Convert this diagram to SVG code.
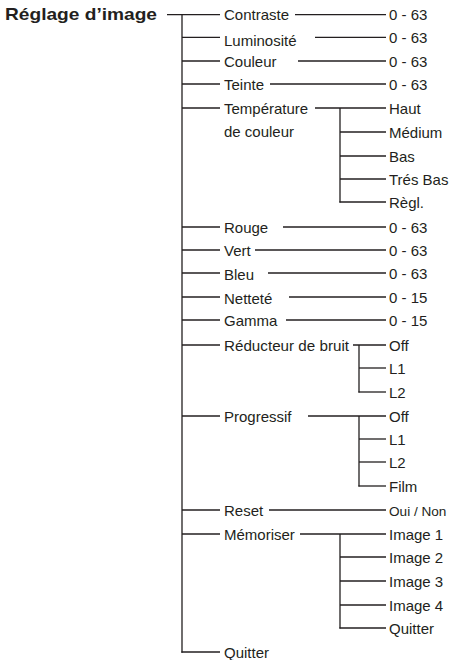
<svg xmlns="http://www.w3.org/2000/svg" width="450" height="660" viewBox="0 0 450 660">
<style>
text{font-family:"Liberation Sans",Arial,sans-serif;font-size:15px;fill:#231f20}
.t{font-weight:bold;font-size:17px}
.s{font-size:13.6px}
.c line{stroke:#231f20;stroke-width:1.3;fill:none}
</style>
<rect width="450" height="660" fill="#fff"/>
<g class="c" id="connectors">
<line x1="167" y1="14.7" x2="220" y2="14.7"/>
<line x1="182" y1="14" x2="182" y2="652.7"/>
<line x1="182" y1="37.3" x2="220" y2="37.3"/>
<line x1="182" y1="61" x2="220" y2="61"/>
<line x1="182" y1="84" x2="220" y2="84"/>
<line x1="182" y1="108" x2="220" y2="108"/>
<line x1="182" y1="227" x2="220" y2="227"/>
<line x1="182" y1="250" x2="220" y2="250"/>
<line x1="182" y1="273" x2="220" y2="273"/>
<line x1="182" y1="297" x2="220" y2="297"/>
<line x1="182" y1="320" x2="220" y2="320"/>
<line x1="182" y1="345" x2="220" y2="345"/>
<line x1="182" y1="416" x2="220" y2="416"/>
<line x1="182" y1="510" x2="220" y2="510"/>
<line x1="182" y1="534" x2="220" y2="534"/>
<line x1="181.4" y1="652" x2="220" y2="652"/>
<line x1="295" y1="14.7" x2="386" y2="14.7"/>
<line x1="315" y1="37.3" x2="386" y2="37.3"/>
<line x1="298" y1="61" x2="386" y2="61"/>
<line x1="270" y1="84" x2="386" y2="84"/>
<line x1="315" y1="108" x2="386" y2="108"/>
<line x1="340" y1="108" x2="340" y2="202.6"/>
<line x1="340" y1="132" x2="386" y2="132"/>
<line x1="340" y1="156" x2="386" y2="156"/>
<line x1="340" y1="179" x2="386" y2="179"/>
<line x1="339.4" y1="202" x2="386" y2="202"/>
<line x1="283" y1="227" x2="386" y2="227"/>
<line x1="255" y1="250" x2="386" y2="250"/>
<line x1="268" y1="273" x2="386" y2="273"/>
<line x1="289" y1="297" x2="386" y2="297"/>
<line x1="286" y1="320" x2="386" y2="320"/>
<line x1="353" y1="345" x2="386" y2="345"/>
<line x1="359" y1="345" x2="359" y2="392.6"/>
<line x1="359" y1="368" x2="386" y2="368"/>
<line x1="358.4" y1="392" x2="386" y2="392"/>
<line x1="308" y1="416" x2="386" y2="416"/>
<line x1="359" y1="416" x2="359" y2="486.6"/>
<line x1="359" y1="439" x2="386" y2="439"/>
<line x1="359" y1="462" x2="386" y2="462"/>
<line x1="358.4" y1="486" x2="386" y2="486"/>
<line x1="269" y1="510" x2="386" y2="510"/>
<line x1="300" y1="534" x2="386" y2="534"/>
<line x1="340" y1="534" x2="340" y2="628.6"/>
<line x1="340" y1="557" x2="386" y2="557"/>
<line x1="340" y1="581" x2="386" y2="581"/>
<line x1="340" y1="605" x2="386" y2="605"/>
<line x1="339.4" y1="628" x2="386" y2="628"/>
</g>
<g id="root"><text class="t" x="5" y="19.5" textLength="152" lengthAdjust="spacingAndGlyphs">Réglage d’image</text></g>
<g id="contraste"><text x="224" y="20">Contraste</text></g>
<g id="luminosite"><text x="224" y="45.5">Luminosité</text></g>
<g id="couleur"><text x="224" y="66.5">Couleur</text></g>
<g id="teinte"><text x="224" y="89.5">Teinte</text></g>
<g id="temperature"><text x="224" y="113.5">Température</text><text x="224" y="137">de couleur</text></g>
<g id="rouge"><text x="224" y="233">Rouge</text></g>
<g id="vert"><text x="224" y="255.5">Vert</text></g>
<g id="bleu"><text x="224" y="280">Bleu</text></g>
<g id="nettete"><text x="224" y="304">Netteté</text></g>
<g id="gamma"><text x="224" y="326">Gamma</text></g>
<g id="reducteur"><text x="224" y="350.5" textLength="125" lengthAdjust="spacingAndGlyphs">Réducteur de bruit</text></g>
<g id="progressif"><text x="224" y="421.5">Progressif</text></g>
<g id="reset"><text x="224" y="515.5">Reset</text></g>
<g id="memoriser"><text x="224" y="539.5">Mémoriser</text></g>
<g id="quitter-main"><text x="224" y="657.5">Quitter</text></g>
<g id="v-contraste"><text x="389" y="20">0 - 63</text></g>
<g id="v-luminosite"><text x="389" y="42.5">0 - 63</text></g>
<g id="v-couleur"><text x="389" y="66.5">0 - 63</text></g>
<g id="v-teinte"><text x="389" y="89.5">0 - 63</text></g>
<g id="t-haut"><text x="389" y="113.5">Haut</text></g>
<g id="t-medium"><text x="389" y="137.5">Médium</text></g>
<g id="t-bas"><text x="389" y="161.5">Bas</text></g>
<g id="t-tresbas"><text x="389" y="184.5">Trés Bas</text></g>
<g id="t-regl"><text x="389" y="207.5">Règl.</text></g>
<g id="v-rouge"><text x="389" y="232.5">0 - 63</text></g>
<g id="v-vert"><text x="389" y="255.5">0 - 63</text></g>
<g id="v-bleu"><text x="389" y="278.5">0 - 63</text></g>
<g id="v-nettete"><text x="389" y="302.5">0 - 15</text></g>
<g id="v-gamma"><text x="389" y="325.5">0 - 15</text></g>
<g id="r-off"><text x="389" y="350.5">Off</text></g>
<g id="r-l1"><text x="389" y="373.5">L1</text></g>
<g id="r-l2"><text x="389" y="397.5">L2</text></g>
<g id="p-off"><text x="389" y="421.5">Off</text></g>
<g id="p-l1"><text x="389" y="444.5">L1</text></g>
<g id="p-l2"><text x="389" y="467.5">L2</text></g>
<g id="p-film"><text x="389" y="491.5">Film</text></g>
<g id="v-reset"><text class="s" x="389" y="515.5">Oui / Non</text></g>
<g id="m-image1"><text x="389" y="539.5">Image 1</text></g>
<g id="m-image2"><text x="389" y="562.5">Image 2</text></g>
<g id="m-image3"><text x="389" y="586.5">Image 3</text></g>
<g id="m-image4"><text x="389" y="610.5">Image 4</text></g>
<g id="m-quitter"><text x="389" y="633.5">Quitter</text></g>
</svg>
